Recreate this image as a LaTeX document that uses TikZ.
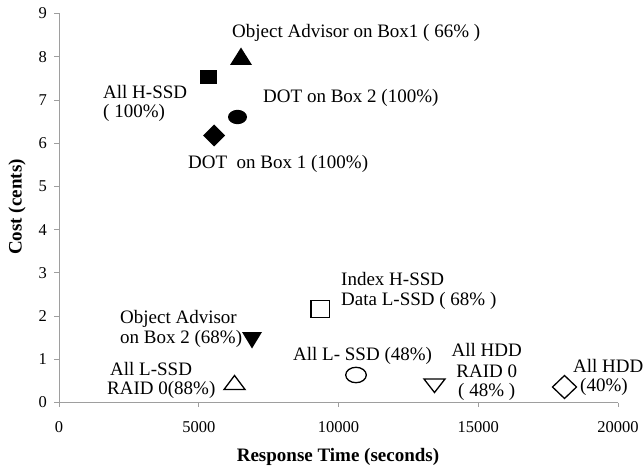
\documentclass[tikz,border=0pt]{standalone}
\usepackage{fontspec}
\setmainfont{Liberation Serif}
\newcommand\twolines[3]{\vtop{\baselineskip=#1\hbox{#2}\hbox{#3}}}
\newcommand\ctrline[1]{\hbox to 71pt{\hfil #1\hfil}}
\begin{document}
\begin{tikzpicture}[x=1pt,y=1pt,
  axisline/.style={draw=black!38, line width=0.9pt},
  ticklab/.style={font=\fontsize{16.5}{18}\selectfont, inner sep=0pt},
  lab/.style={font=\fontsize{19}{21}\selectfont, inner sep=0pt, anchor=base west},
  ttl/.style={font=\fontsize{19}{21}\selectfont\bfseries, inner sep=0pt},
  filledmk/.style={fill=black, draw=none},
  openmk/.style={draw=black, line width=1.3pt, fill=none, line join=miter}]
\useasboundingbox (0,-470) rectangle (644,0);
% axes
\draw[axisline] (59,-13.5) -- (59,-402.5) -- (618,-402.5);
\foreach \k in {0,...,9} {
  \draw[axisline] (54,{-402.5+\k*43.22}) -- (59,{-402.5+\k*43.22});
  \node[ticklab, anchor=east] (yt\k) at (47,{-402.5+\k*43.22}) {\k};
}
\foreach \k/\v in {0/0,1/5000,2/10000,3/15000,4/20000} {
  \draw[axisline] ({59+\k*139.75},-402.5) -- ({59+\k*139.75},-407);
  \node[ticklab] (xt\k) at ({59+\k*139.75},-427.5) {\v};
}
\node[ttl] (xtitle) at (338,-457) {Response Time (seconds)};
\node[ttl, rotate=90] (ytitle) at (17,-207) {Cost (cents)};
% filled markers
\fill[filledmk] (230,-65) -- (252,-65) -- (241,-47.5) -- cycle;
\fill[filledmk] (199.5,-70.5) rectangle (216.5,-84.5);
\fill[filledmk] (237.5,-117) ellipse (9.5 and 7.2);
\fill[filledmk] (214,-124.5) -- (225,-135.5) -- (214,-146.5) -- (203,-135.5) -- cycle;
\fill[filledmk] (242,-332) -- (262,-332) -- (252,-348.5) -- cycle;
% open markers
\draw[openmk] (224,-389.5) -- (245,-389.5) -- (234.5,-375.5) -- cycle;
\draw[openmk] (311,-300.5) rectangle (329.5,-317.5);
\draw[openmk] (356,-375) ellipse (10.3 and 7.7);
\draw[openmk] (424,-379) -- (445,-379) -- (434.5,-392.5) -- cycle;
\draw[openmk] (564.5,-375.5) -- (576.5,-387) -- (564.5,-398.5) -- (552.5,-387) -- cycle;
% labels
\node[lab] (l1) at (232,-38) {Object Advisor on Box1 ( 66\% )};
\node[lab] (l2) at (103,-99) {\twolines{19pt}{All H-SSD}{( 100\%)}};
\node[lab] (l3) at (263,-103) {DOT on Box 2 (100\%)};
\node[lab] (l4) at (188,-169) {DOT\ \ on Box 1 (100\%)};
\node[lab] (l5) at (341,-285) {\twolines{20pt}{Index H-SSD}{Data L-SSD ( 68\% )}};
\node[lab] (l6) at (120,-323) {\twolines{20pt}{Object Advisor}{on Box 2 (68\%)}};
\node[lab] (l7) at (107,-375.5) {\twolines{19pt}{\hskip3pt All L-SSD}{RAID 0(88\%)}};
\node[lab] (l8) at (293,-360) {All L- SSD (48\%)};
\node[lab] (l9) at (451,-356) {\vtop{\baselineskip=19pt\ctrline{All HDD}\vskip2pt\ctrline{RAID 0}\ctrline{( 48\% )}}};
\node[lab] (l10) at (573,-372) {\twolines{19pt}{All HDD}{\hskip7pt(40\%)}};
\end{tikzpicture}
\end{document}
